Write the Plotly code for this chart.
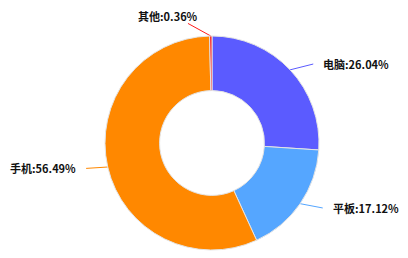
import math
import plotly.graph_objects as go

labels = ["电脑", "平板", "手机", "其他"]
values = [26.04, 17.12, 56.49, 0.36]
colors = ["#5b5bff", "#55a6ff", "#ff8800", "#ff1a1a"]

W, H = 408, 258
cx, cy, R = 212, 143, 107

fig = go.Figure()
fig.add_trace(go.Pie(
    labels=labels, values=values, hole=0.49, sort=False, direction="clockwise",
    rotation=0, textinfo="none", hoverinfo="label+percent",
    marker=dict(colors=colors, line=dict(color="#e4e4e4", width=1)),
    domain=dict(x=[(cx - R) / W, (cx + R) / W], y=[(H - cy - R) / H, (H - cy + R) / H]),
    showlegend=False,
))

total = sum(values)
start = 0.0
for lab, v, c in zip(labels, values, colors):
    frac = v / total
    mid = (start + frac / 2) * 360
    start += frac
    right = mid < 180
    target = 90 if right else 270
    lab_ang = mid + 0.12 * (target - mid)
    a0 = math.radians(mid)
    a1 = math.radians(lab_ang)
    near_top = abs(math.sin(a1)) < 0.3
    k = 1.14 if near_top else 1.2
    x0, y0 = cx + R * math.sin(a0), cy - R * math.cos(a0)
    x1, y1 = cx + k * R * math.sin(a1), cy - k * R * math.cos(a1)
    fig.add_trace(go.Scatter(x=[x0, x1], y=[y0, y1], mode="lines",
                             line=dict(color=c, width=1), hoverinfo="skip",
                             showlegend=False, xaxis="x", yaxis="y"))
    if near_top:
        fig.add_annotation(x=x1, y=y1, xref="x", yref="y",
                           text=f"<b>{lab}:{v:.2f}%</b>", showarrow=False,
                           xanchor="right", yanchor="middle", xshift=12, yshift=7,
                           font=dict(family="Noto Sans CJK SC", size=11, color="#111111"))
    else:
        fig.add_annotation(x=x1, y=y1, xref="x", yref="y",
                           text=f"<b>{lab}:{v:.2f}%</b>", showarrow=False,
                           xanchor="left" if right else "right", yanchor="middle",
                           xshift=8 if right else -8, yshift=0,
                           font=dict(family="Noto Sans CJK SC", size=11, color="#111111"))

fig.update_layout(
    width=W, height=H, margin=dict(l=0, r=0, t=0, b=0),
    paper_bgcolor="white", plot_bgcolor="rgba(0,0,0,0)",
    xaxis=dict(range=[0, W], visible=False, fixedrange=True, domain=[0, 1]),
    yaxis=dict(range=[H, 0], visible=False, fixedrange=True, domain=[0, 1]),
)
fig.write_html("out.html")
